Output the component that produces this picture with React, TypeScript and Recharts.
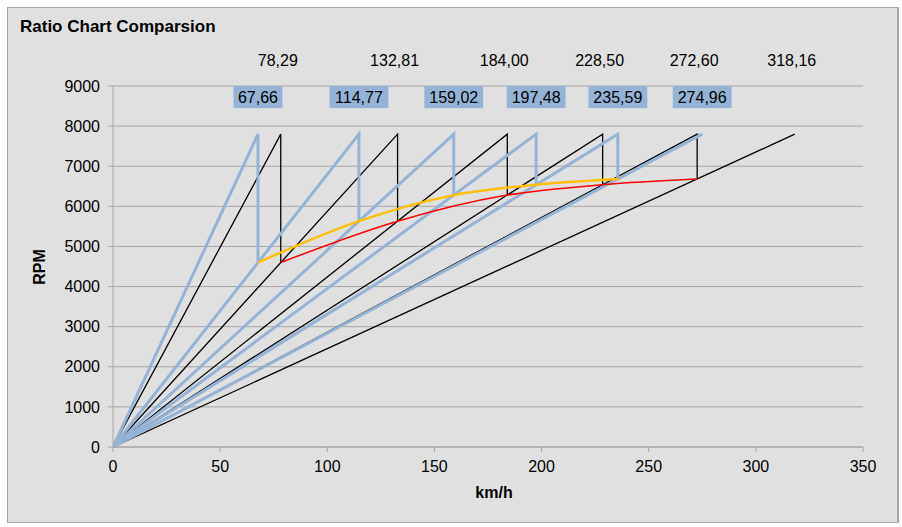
import React from 'react';
import { ComposedChart, Line, Scatter, XAxis, YAxis, CartesianGrid } from 'recharts';

// rev limit where every gear line ends
const REDLINE = 7800;

// gearbox A (black) - top speed per gear at redline, km/h
const blackTopSpeeds = [78.29, 132.81, 184.0, 228.5, 272.6, 318.16];
// rpm after shifting up at redline
const blackShiftRpm = [4600, 5630, 6280, 6540, 6680];

// gearbox B (blue)
const blueTopSpeeds = [67.66, 114.77, 159.02, 197.48, 235.59, 274.96];
const blueShiftRpm = [4600, 5630, 6280, 6540, 6680];

const xTicks = [0, 50, 100, 150, 200, 250, 300, 350];
const yTicks = [0, 1000, 2000, 3000, 4000, 5000, 6000, 7000, 8000, 9000];

const FONT = '"Liberation Sans", Arial, sans-serif';
const BLUE = '#95b3d7';

const gearLine = (tops: number[], drops: number[], i: number) => {
  const pts = [
    { x: 0, y: 0 },
    { x: tops[i], y: REDLINE },
  ];
  if (i < drops.length) pts.push({ x: tops[i], y: drops[i] });
  return pts;
};

const shiftCurve = (tops: number[], drops: number[]) =>
  drops.map((y, i) => ({ x: tops[i], y }));

const fmt = (v: number) => v.toFixed(2).replace('.', ',');

const BlackLabel = (props: any) => {
  const { cx, cy, payload } = props;
  return (
    <text x={cx - 3} y={cy - 68} textAnchor="middle" fontSize={16} fontFamily={FONT} fill="#000">
      {fmt(payload.x)}
    </text>
  );
};

const BlueLabel = (props: any) => {
  const { cx, cy, payload } = props;
  const txt = fmt(payload.x);
  const w = txt.length * 9.8;
  return (
    <g>
      <rect x={cx - w / 2} y={cy - 48} width={w} height={22} fill={BLUE} />
      <text x={cx} y={cy - 31} textAnchor="middle" fontSize={16} fontFamily={FONT} fill="#000">
        {txt}
      </text>
    </g>
  );
};

export default function App() {
  const tick = { fill: '#000', fontSize: 16, fontFamily: FONT };
  return (
    <div
      style={{
        position: 'absolute',
        left: 7,
        top: 7,
        width: 889,
        height: 514,
        border: '1px solid #a6a6a6',
        borderRightWidth: 2,
        background: '#e0e0e0',
        fontFamily: FONT,
      }}
    >
      <div style={{ position: 'absolute', left: 12, top: 10, fontSize: 17, lineHeight: '17px', fontWeight: 'bold' }}>
        Ratio Chart Comparsion
      </div>
      <div
        style={{
          position: 'absolute',
          left: 486,
          top: 477,
          fontSize: 16,
          lineHeight: '16px',
          fontWeight: 'bold',
          transform: 'translateX(-50%)',
        }}
      >
        km/h
      </div>
      <div
        style={{
          position: 'absolute',
          left: 32,
          top: 259,
          fontSize: 16,
          lineHeight: '16px',
          fontWeight: 'bold',
          transform: 'translate(-50%, -50%) rotate(-90deg)',
        }}
      >
        RPM
      </div>
      <ComposedChart width={889} height={514} margin={{ top: 78, right: 34, bottom: 10, left: 10 }}>
        <CartesianGrid vertical={false} stroke="#a6a6a6" />
        <XAxis
          type="number"
          dataKey="x"
          domain={[0, 350]}
          ticks={xTicks}
          height={65}
          stroke="#a6a6a6"
          tickSize={5}
          tickMargin={9}
          tick={tick}
          allowDataOverflow
        />
        <YAxis
          type="number"
          dataKey="y"
          domain={[0, 9000]}
          ticks={yTicks}
          width={95}
          stroke="#a6a6a6"
          tickSize={5}
          tickMargin={8}
          tick={tick}
        />
        {blackTopSpeeds.map((_, i) => (
          <Line
            key={'b' + i}
            data={gearLine(blackTopSpeeds, blackShiftRpm, i)}
            dataKey="y"
            type="linear"
            stroke="#000"
            strokeWidth={1.3}
            dot={false}
            activeDot={false}
            isAnimationActive={false}
          />
        ))}
        {blueTopSpeeds.map((_, i) => (
          <Line
            key={'l' + i}
            data={gearLine(blueTopSpeeds, blueShiftRpm, i)}
            dataKey="y"
            type="linear"
            stroke={BLUE}
            strokeWidth={3}
            dot={false}
            activeDot={false}
            isAnimationActive={false}
          />
        ))}
        <Line
          data={shiftCurve(blackTopSpeeds, blackShiftRpm)}
          dataKey="y"
          type="monotone"
          stroke="#ff0000"
          strokeWidth={1.5}
          dot={false}
          activeDot={false}
          isAnimationActive={false}
        />
        <Line
          data={shiftCurve(blueTopSpeeds, blueShiftRpm)}
          dataKey="y"
          type="monotone"
          stroke="#ffc000"
          strokeWidth={2.5}
          dot={false}
          activeDot={false}
          isAnimationActive={false}
        />
        <Scatter
          data={blackTopSpeeds.map((x) => ({ x, y: REDLINE }))}
          dataKey="y"
          shape={BlackLabel}
          isAnimationActive={false}
        />
        <Scatter
          data={blueTopSpeeds.map((x) => ({ x, y: REDLINE }))}
          dataKey="y"
          shape={BlueLabel}
          isAnimationActive={false}
        />
      </ComposedChart>
    </div>
  );
}
